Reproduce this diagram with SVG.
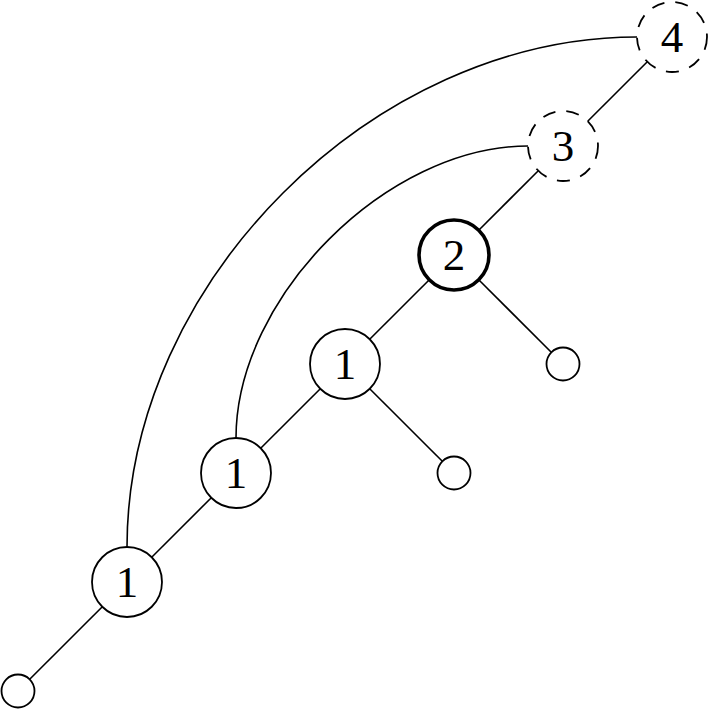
<svg xmlns="http://www.w3.org/2000/svg" width="709" height="710" viewBox="0 0 709 710">
<style>
.n{fill:#fff;stroke:#000;stroke-width:1.8}
.d{stroke-dasharray:13 11}
.b{stroke-width:3.6}
.e{fill:none;stroke:#000;stroke-width:1.6}
text{font-family:"Liberation Serif","DejaVu Serif",serif;font-size:45px;text-anchor:middle;fill:#000}
</style>
<rect width="709" height="710" fill="#fff"/>
<g id="connectors">
<path class="e" d="M29.7,679.3L102.3,606.7"/>
<path class="e" d="M151.7,557.3L211.3,497.7"/>
<path class="e" d="M260.7,448.3L320.3,388.7"/>
<path class="e" d="M369.7,339.3L429.3,279.7"/>
<path class="e" d="M478.7,230.3L538.3,170.7"/>
<path class="e" d="M587.7,121.3L647.3,61.7"/>
<path class="e" d="M369.7,388.7L442.3,461.3"/>
<path class="e" d="M478.7,279.7L551.3,352.3"/>
<path class="e" d="M127,547C127,283 373,37 637,37"/>
<path class="e" d="M236,438C236,297 387,146 528,146"/>
</g>
<g id="s0"><circle class="n" cx="18" cy="691" r="16.5"/></g>
<g id="s1"><circle class="n" cx="454" cy="473" r="16.5"/></g>
<g id="s2"><circle class="n" cx="563" cy="364" r="16.5"/></g>
<g id="n1a"><circle class="n" cx="127" cy="582" r="35"/><text x="127" y="597">1</text></g>
<g id="n1b"><circle class="n" cx="236" cy="473" r="35"/><text x="236" y="488">1</text></g>
<g id="n1c"><circle class="n" cx="345" cy="364" r="35"/><text x="345" y="379">1</text></g>
<g id="n2"><circle class="n b" cx="454" cy="255" r="35"/><text x="454" y="270">2</text></g>
<g id="n3"><circle class="n d" cx="563" cy="146" r="35"/><text x="563" y="161">3</text></g>
<g id="n4"><circle class="n d" cx="672" cy="37" r="35"/><text x="672" y="52">4</text></g>
</svg>
